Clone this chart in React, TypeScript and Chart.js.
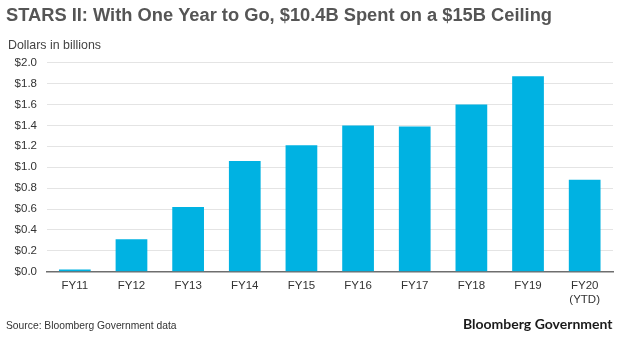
import React, { useEffect, useRef } from "react";
import { Chart, registerables } from "chart.js";

Chart.register(...registerables);

const categories: (string | string[])[] = [
  "FY11", "FY12", "FY13", "FY14", "FY15", "FY16", "FY17", "FY18", "FY19", ["FY20", "(YTD)"],
];
const spending: number[] = [0.02, 0.31, 0.62, 1.06, 1.21, 1.4, 1.39, 1.6, 1.87, 0.88];
const yTicks = { min: 0, max: 2, step: 0.2 };

const titleText = "STARS II: With One Year to Go, $10.4B Spent on a $15B Ceiling";
const unitText = "Dollars in billions";
const sourceText = "Source: Bloomberg Government data";
const brandText = "Bloomberg Government";

const textPlugin = {
  id: "extraText",
  afterDraw(chart: any) {
    const ctx = chart.ctx as CanvasRenderingContext2D;
    ctx.save();
    ctx.textBaseline = "alphabetic";
    ctx.textAlign = "left";
    ctx.fillStyle = "#555555";
    ctx.font = "bold 18.3px 'Liberation Sans', Arial, sans-serif";
    ctx.fillText(titleText, 6, 20.7);
    ctx.fillStyle = "#444444";
    ctx.font = "12.4px 'Liberation Sans', Arial, sans-serif";
    ctx.fillText(unitText, 8, 49.3);
    ctx.fillStyle = "#333333";
    ctx.font = "10.3px 'Liberation Sans', Arial, sans-serif";
    ctx.fillText(sourceText, 6, 328.7);
    ctx.textAlign = "right";
    ctx.fillStyle = "#1a1a1a";
    ctx.font = "bold 14px Lato, 'Open Sans', sans-serif";
    ctx.fillText(brandText, 612.5, 329.3);
    ctx.restore();
  },
};

export default function App() {
  const ref = useRef<HTMLCanvasElement>(null);
  useEffect(() => {
    document.body.style.margin = "0";
    const canvas = ref.current!;
    const chart = new Chart(canvas, {
      type: "bar",
      data: {
        labels: categories as any,
        datasets: [
          {
            data: spending,
            backgroundColor: "#00B2E2",
            borderWidth: 0,
            barPercentage: 0.56,
            categoryPercentage: 1,
          },
        ],
      },
      options: {
        animation: false,
        responsive: false,
        devicePixelRatio: 1,
        layout: { padding: { top: 62.7, right: 7, bottom: 27.3, left: 0 } },
        plugins: { legend: { display: false }, tooltip: { enabled: false }, title: { display: false } },
        scales: {
          x: {
            offset: true,
            grid: { display: false, drawTicks: false },
            border: { display: true, color: "#6e6e6e", width: 1.5 },
            ticks: {
              color: "#333333",
              font: { family: "'Liberation Sans', Arial, sans-serif", size: 11.5, lineHeight: 1.2 },
              padding: 7,
              maxRotation: 0,
              autoSkip: false,
            },
            afterFit: (s: any) => {
              s.height = 40;
            },
          },
          y: {
            min: yTicks.min,
            max: yTicks.max,
            grid: { color: "#e4e4e4", lineWidth: 1, drawTicks: false },
            border: { display: false },
            ticks: {
              stepSize: yTicks.step,
              color: "#333333",
              font: { family: "'Liberation Sans', Arial, sans-serif", size: 11.5 },
              padding: 9.5,
              callback: (v: any) => "$" + Number(v).toFixed(1),
            },
            afterFit: (s: any) => {
              s.width = 46.5;
            },
          },
        },
      },
      plugins: [textPlugin],
    });
    return () => chart.destroy();
  }, []);
  return (
    <div style={{ width: 620, height: 339, background: "#fff" }}>
      <canvas ref={ref} width={620} height={339} style={{ display: "block" }} />
    </div>
  );
}
